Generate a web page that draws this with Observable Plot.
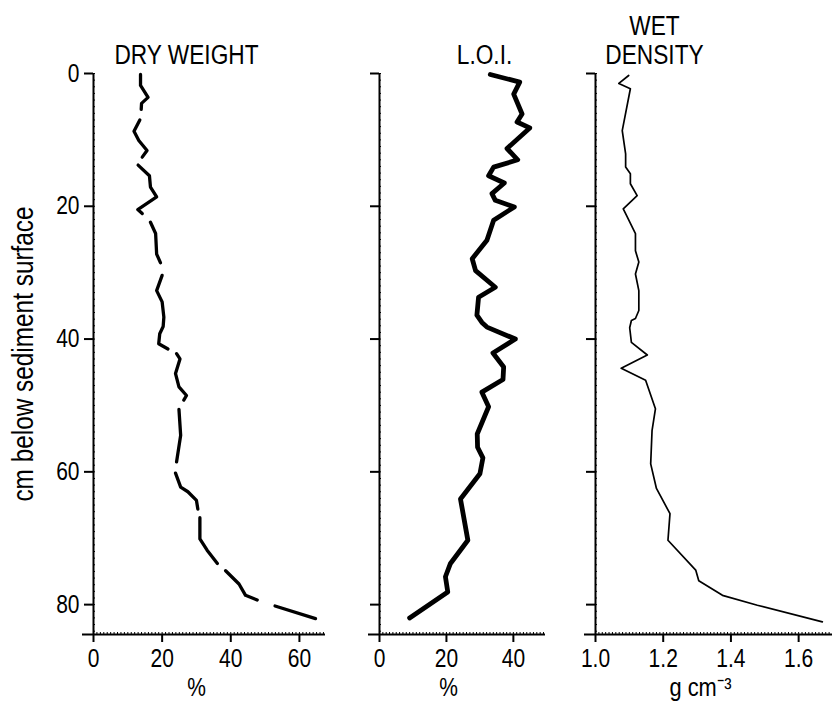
<!DOCTYPE html>
<html><head><meta charset="utf-8">
<script src="https://cdn.jsdelivr.net/npm/d3@7"></script>
<script src="https://cdn.jsdelivr.net/npm/@observablehq/plot@0.6"></script>
<style>
body{margin:0;background:#fff;}
#chart{position:relative;width:832px;height:704px;overflow:hidden;background:#fff;}
#chart svg{position:absolute;top:0;}
</style></head>
<body><div id="chart"></div>
<script>
// ---- tick labels ----
const depthTicks = [0, 20, 40, 60, 80];
const dryTicks = [0, 20, 40, 60];
const loiTicks = [0, 20, 40];
const densTicks = [1.0, 1.2, 1.4, 1.6];

// ---- titles / units ----
const titles = ["DRY WEIGHT", "L.O.I.", "WET\nDENSITY"];
const units = ["%", "%", "g cm⁻³"];
const yLabel = "cm below sediment surface";

// ---- DRY WEIGHT (%), drawn as broken segments ----
const dryDepth = [0.15,1.8,3.6,4.5,5.4, 7.0,8.7,10.1,11.6,12.6, 13.8,15.4,17.1,18.6,20.5,21.1, 22.4,24.1,27.2,28.5,
  30.4,32.7,34.4,36.7,38.1,39.2,40.7,41.5, 42.2,43.0,45.2,47.2,48.5,49.2, 50.6,54.5,58.5, 60.2,62.3,63.0,64.3,65.6,
  66.9,70.1,71.8,73.8, 74.9,76.9,78.6,79.3, 80.2,82.1];
const dryPct = [13.7,13.7,15.9,14.0,13.9, 13.5,11.8,13.2,15.6,14.2, 13.0,16.3,16.6,18.4,12.9,14.2, 16.6,18.1,18.4,19.5,
  20.0,18.4,20.0,20.5,20.3,19.3,19.0,21.7, 24.2,25.2,23.9,24.9,27.1,26.3, 24.9,25.4,24.2, 23.9,25.4,27.5,30.0,30.4,
  31.0,31.0,33.1,36.1, 38.5,42.4,44.3,47.7, 52.9,64.7];
const drySeg = [0,0,0,0,0, 1,1,1,1,1, 2,2,2,2,2,2, 3,3,3,3, 4,4,4,4,4,4,4,4, 5,5,5,5,5,5, 6,6,6, 7,7,7,7,7,
  8,8,8,8, 9,9,9,9, 10,10];

// ---- L.O.I. (%) ----
const loiDepth = [0.15,1.3,3.1,6.1,7.3,8.2,11.3,13.0,14.1,15.4,16.5,18.1,19.1,20.1,22.1,25.1,27.9,29.7,32.2,33.7,36.4,
  37.5,38.2,40.0,42.1,44.2,46.1,48.0,50.2,54.3,56.3,57.9,60.3,64.1,70.3,73.8,75.8,78.1,82.0];
const loiPct = [33.1,41.9,40.1,42.6,41.1,44.9,38.1,41.3,34.1,32.6,37.3,33.6,34.6,40.3,34.1,32.1,27.7,28.7,34.6,29.6,29.1,
  30.6,32.1,40.6,33.9,37.1,36.9,30.6,32.6,29.2,29.3,30.9,30.0,24.2,26.4,21.2,19.7,20.4,9.0];

// ---- WET DENSITY (g cm-3) ----
const densDepth = [0.3,1.5,2.3,8.6,12.1,14.1,15.1,16.6,18.4,20.4,21.1,24.1,26.7,28.4,30.2,32.7,35.7,36.9,
  37.2,38.3,40.5,42.4,44.4,46.2,50.5,53.8,58.8,62.5,66.3,70.3,74.8,76.4,78.6,80.1,82.6];
const densVal = [1.098,1.069,1.103,1.079,1.089,1.089,1.103,1.103,1.123,1.082,1.089,1.118,1.118,1.128,1.118,1.128,1.128,1.118,
  1.106,1.101,1.106,1.153,1.076,1.148,1.177,1.167,1.163,1.180,1.220,1.214,1.296,1.305,1.375,1.478,1.670];

const dry = dryDepth.map((d, i) => ({depth: d, value: dryPct[i], seg: drySeg[i]}));
const loi = loiDepth.map((d, i) => ({depth: d, value: loiPct[i]}));
const dens = densDepth.map((d, i) => ({depth: d, value: densVal[i]}));

const FONT = "'Liberation Sans Narrow','Liberation Sans',Arial,sans-serif";
const H = 704, MT = 73, MB = 70;
const yDomain = [0, 84.5];

function panel(o) {
  const yMinor = d3.range(0, 85, 1);
  const marks = [
    Plot.axisY({ticks: yMinor, tickSize: 2, dx: 2, tickFormat: () => "", label: null, strokeWidth: 1}),
    Plot.axisX({ticks: o.xMinor, tickSize: 2, dy: -2, tickFormat: () => "", label: null, strokeWidth: 1}),
    Plot.axisY({ticks: depthTicks, tickSize: 9, tickPadding: 5, strokeWidth: 2, fontSize: 25,
      tickFormat: o.yLabels ? (d => d) : (() => ""), label: null}),
    Plot.axisX({ticks: o.xTicks, tickSize: 8, tickPadding: 7, strokeWidth: 2, fontSize: 25,
      tickFormat: o.fmt, label: null}),
    Plot.ruleX([o.xDomain[0]], {strokeWidth: 2}),
    Plot.ruleY([yDomain[1]], {strokeWidth: 2, insetLeft: -11}),
    Plot.line(o.data, {x: "value", y: "depth", z: o.z, stroke: "#000", strokeWidth: o.sw,
      strokeLinejoin: "round", strokeLinecap: "round", curve: "linear"}),
    Plot.text([o.title], {frameAnchor: "top-left", dx: o.titleDx, dy: -10, textAnchor: "middle",
      lineAnchor: "bottom", fontSize: 27, lineHeight: 1.06, fill: "#000"}),
    Plot.text([o.unit], {frameAnchor: "bottom-left", dx: o.unitDx, dy: 61, textAnchor: "middle",
      lineAnchor: "bottom", fontSize: o.unitSize, fill: "#000"})
  ];
  if (o.yLabels) {
    marks.push(Plot.text([yLabel], {frameAnchor: "left", dx: -70, rotate: -90, textAnchor: "middle",
      lineAnchor: "middle", fontSize: 29, fill: "#000"}));
  }
  const svg = Plot.plot({
    width: o.width, height: H,
    marginLeft: o.ml, marginRight: o.mr, marginTop: MT, marginBottom: MB,
    style: {fontFamily: FONT, color: "#000", background: "transparent", overflow: "visible"},
    x: {domain: o.xDomain, axis: null},
    y: {domain: yDomain, reverse: true, axis: null},
    marks
  });
  svg.style.left = o.left + "px";
  return svg;
}

// narrow the lettering like the condensed face of the original
function condense(svg, f) {
  svg.querySelectorAll("text").forEach(t => {
    const spans = t.querySelectorAll("tspan");
    const els = spans.length ? [...spans] : [t];
    els.forEach(el => {
      const L = el.getComputedTextLength();
      if (L > 0) {
        el.setAttribute("textLength", (L * f).toFixed(2));
        el.setAttribute("lengthAdjust", "spacingAndGlyphs");
      }
    });
  });
}

const chart = document.getElementById("chart");
const panels = [
  panel({left: 0, width: 340, ml: 93, mr: 15, xDomain: [0, 67.6], xTicks: dryTicks,
    xMinor: d3.range(0, 68, 1), fmt: d => d, data: dry, z: "seg", sw: 3.3,
    title: titles[0], titleDx: 93, unit: units[0], unitDx: 103, unitSize: 25, yLabels: true}),
  panel({left: 340, width: 220, ml: 39, mr: 15, xDomain: [0, 49.6], xTicks: loiTicks,
    xMinor: d3.range(0, 50, 1), fmt: d => d, data: loi, z: null, sw: 4.8,
    title: titles[1], titleDx: 105, unit: units[1], unitDx: 69, unitSize: 25, yLabels: false}),
  panel({left: 560, width: 272, ml: 35, mr: 0, xDomain: [1.0, 1.70], xTicks: densTicks,
    xMinor: d3.range(100, 171, 1).map(v => v / 100), fmt: d3.format(".1f"), data: dens, z: null, sw: 1.7,
    title: titles[2], titleDx: 59, unit: units[2], unitDx: 105, unitSize: 26, yLabels: false})
];
panels.forEach(svg => { chart.appendChild(svg); condense(svg, 0.84); });
</script>
</body></html>
